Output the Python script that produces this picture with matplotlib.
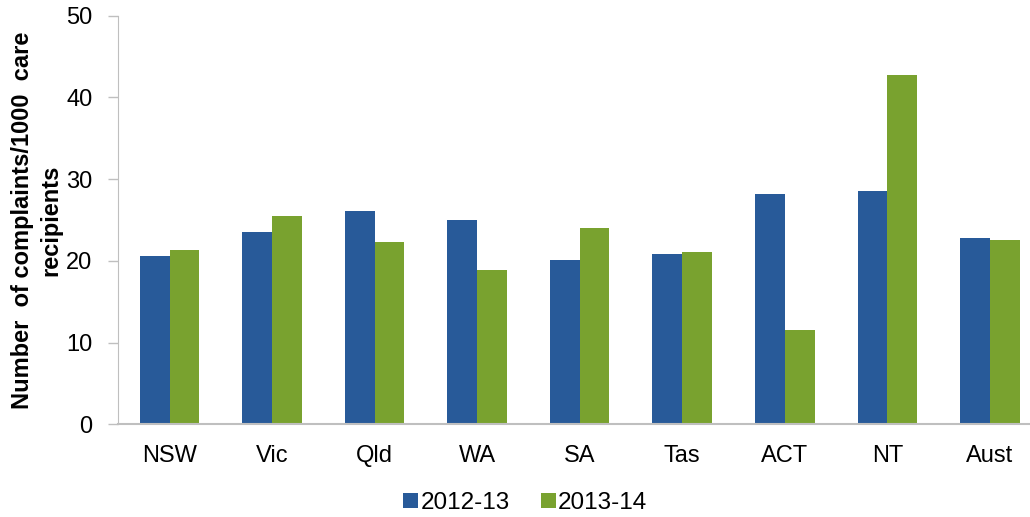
import numpy as np
import matplotlib
matplotlib.use('Agg')
import matplotlib.pyplot as plt

plt.rcParams['font.family'] = ['Liberation Sans', 'DejaVu Sans']

states = ['NSW', 'Vic', 'Qld', 'WA', 'SA', 'Tas', 'ACT', 'NT', 'Aust']
y2012 = [20.6, 23.5, 26.1, 25.0, 20.1, 20.8, 28.2, 28.6, 22.8]
y2013 = [21.3, 25.5, 22.3, 18.9, 24.0, 21.1, 11.5, 42.8, 22.5]

blue = '#285A99'
green = '#79A22F'
grey = '#BFBFBF'

fig = plt.figure(figsize=(10.3, 5.17), dpi=100)
ax = fig.add_axes([0.1148, 0.1793, 0.896, 0.7903])

x = np.arange(len(states))
w = 0.29
ax.bar(x - w / 2, y2012, w, color=blue, label='2012-13')
ax.bar(x + w / 2, y2013, w, color=green, label='2013-14')

ax.set_xlim(-0.5, len(states) - 0.5)
ax.set_ylim(0, 50)
ax.set_yticks(range(0, 51, 10))
ax.set_xticks(x)
ax.set_xticklabels(states)
ax.tick_params(axis='x', length=0, pad=15, labelsize=17)
ax.tick_params(axis='y', length=7, width=1, color=grey, pad=11.5, labelsize=17)

for s in ['top', 'right']:
    ax.spines[s].set_visible(False)
ax.spines['left'].set_color(grey)
ax.spines['bottom'].set_color(grey)
ax.spines['bottom'].set_linewidth(1.5)

ax.set_ylabel('Number  of complaints/1000  care\nrecipients', fontsize=17,
              fontweight='bold', linespacing=1.3)
ax.yaxis.set_label_coords(-0.061, 0.5)

fig.legend(loc='center', bbox_to_anchor=(0.51, 0.027), ncol=2, frameon=False,
           fontsize=17.5, handlelength=0.6, handleheight=0.6, handletextpad=0.1,
           columnspacing=1.3)

fig.savefig('out.png', dpi=100)
